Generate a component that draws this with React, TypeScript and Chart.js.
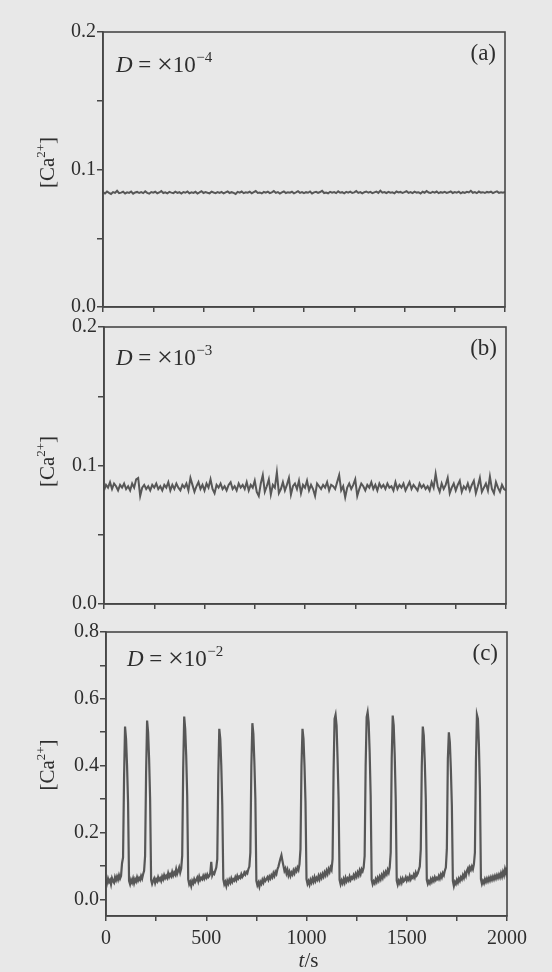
import React, { useEffect, useRef } from 'react';
import { Chart, registerables } from 'chart.js';

Chart.register(...registerables);

// ---------------- data ----------------
const T_MAX = 2000;
const STEP_A = 10; // s between samples, panel (a)
const STEP_B = 10; // panel (b)
const STEP_C = 5; // panel (c)

// (a) D = ×10^-4
const caA = [
  0.0835, 0.0825, 0.084, 0.083, 0.0822, 0.0836, 0.083, 0.0845, 0.0828, 0.0832, 0.0838, 0.0826, 0.0834, 0.083, 0.084, 0.0824, 0.0833, 0.0837, 0.0829, 0.0835,
  0.0828, 0.0841, 0.083, 0.0824, 0.0836, 0.0831, 0.0838, 0.0827, 0.0833, 0.0843, 0.0829, 0.0834, 0.0826, 0.0837, 0.0832, 0.0828, 0.0839, 0.083, 0.0835, 0.0825,
  0.0836, 0.0831, 0.084, 0.0827, 0.0834, 0.083, 0.0838, 0.0825, 0.0833, 0.0842, 0.0829, 0.0836, 0.0831, 0.0827, 0.0839, 0.0833, 0.0828, 0.0836, 0.083, 0.0837,
  0.0826, 0.0834, 0.0841, 0.0829, 0.0835, 0.083, 0.0822, 0.0837, 0.0832, 0.084, 0.0828, 0.0834, 0.0831, 0.0838, 0.0827, 0.0835, 0.0843, 0.083, 0.0833, 0.0826,
  0.0837, 0.0831, 0.0839, 0.0828, 0.0834, 0.0844, 0.083, 0.0836, 0.0825, 0.0833, 0.084, 0.0829, 0.0835, 0.0831, 0.0838, 0.0827, 0.0834, 0.0842, 0.083, 0.0836,
  0.0828, 0.0835, 0.0831, 0.084, 0.0826, 0.0834, 0.0838, 0.083, 0.0836, 0.0845, 0.0829, 0.0833, 0.0827, 0.0838, 0.0832, 0.0836, 0.0828, 0.0841, 0.0831, 0.0835,
  0.0827, 0.0837, 0.0832, 0.0839, 0.0829, 0.0834, 0.0843, 0.083, 0.0836, 0.0826, 0.0835, 0.084, 0.0831, 0.0837, 0.0828, 0.0834, 0.0839, 0.083, 0.0846, 0.0832,
  0.0836, 0.0829, 0.0838, 0.0831, 0.0834, 0.0827, 0.084, 0.0833, 0.0837, 0.0829, 0.0835, 0.0842, 0.083, 0.0836, 0.0828, 0.0839, 0.0832, 0.0835, 0.0826, 0.0838,
  0.0831, 0.0844, 0.0833, 0.0829, 0.0837, 0.0832, 0.084, 0.0828, 0.0835, 0.0831, 0.0838, 0.083, 0.0834, 0.0841, 0.0829, 0.0836, 0.0832, 0.0839, 0.0827, 0.0835,
  0.083, 0.0838, 0.0833, 0.0845, 0.0831, 0.0836, 0.0828, 0.084, 0.0832, 0.0835, 0.0829, 0.0837, 0.0833, 0.0839, 0.0828, 0.0836, 0.0841, 0.083, 0.0835, 0.0831,
  0.0836,
];

// (b) D = ×10^-3
const caB = [
  0.082, 0.086, 0.084, 0.088, 0.083, 0.087, 0.085, 0.082, 0.086, 0.084, 0.087, 0.083, 0.085, 0.082, 0.087, 0.084, 0.09, 0.091, 0.078, 0.084,
  0.086, 0.083, 0.085, 0.082, 0.086, 0.084, 0.087, 0.083, 0.085, 0.082, 0.086, 0.084, 0.088, 0.082, 0.086, 0.083, 0.087, 0.084, 0.082, 0.086,
  0.084, 0.087, 0.082, 0.091, 0.086, 0.081, 0.085, 0.088, 0.083, 0.086, 0.082, 0.087, 0.084, 0.09, 0.083, 0.08, 0.086, 0.084, 0.087, 0.083,
  0.085, 0.082, 0.086, 0.088, 0.083, 0.085, 0.082, 0.087, 0.084, 0.086, 0.083, 0.088, 0.082, 0.086, 0.084, 0.089, 0.081, 0.078, 0.087, 0.093,
  0.081, 0.085, 0.09, 0.079, 0.086, 0.084, 0.095, 0.08, 0.083, 0.088, 0.082, 0.086, 0.091, 0.079, 0.085, 0.087, 0.083, 0.089, 0.08, 0.086,
  0.084, 0.089, 0.082, 0.086, 0.083, 0.078, 0.087, 0.085, 0.083, 0.086, 0.084, 0.088, 0.082, 0.086, 0.085, 0.083, 0.088, 0.093, 0.082, 0.085,
  0.077, 0.084, 0.087, 0.083, 0.086, 0.09, 0.078, 0.083, 0.087, 0.085, 0.082, 0.086, 0.084, 0.088, 0.083, 0.086, 0.082, 0.087, 0.084, 0.086,
  0.083, 0.087, 0.084, 0.085, 0.082, 0.088, 0.083, 0.086, 0.084, 0.087, 0.082, 0.085, 0.088, 0.083, 0.086, 0.084, 0.082, 0.087, 0.084, 0.086,
  0.083, 0.085, 0.082, 0.088, 0.084, 0.094, 0.085, 0.081, 0.087, 0.083, 0.086, 0.091, 0.08, 0.084, 0.087, 0.082, 0.086, 0.089, 0.081, 0.085,
  0.083, 0.087, 0.082, 0.086, 0.089, 0.08, 0.085, 0.091, 0.081, 0.084, 0.087, 0.082, 0.092, 0.083, 0.08, 0.088, 0.084, 0.081, 0.086, 0.083,
  0.082,
];

// (c) D = ×10^-2
const caC = [
  0.06, 0.048, 0.062, 0.052, 0.058, 0.045, 0.063, 0.055, 0.05, 0.066, 0.057, 0.068, 0.059, 0.072, 0.062, 0.07, 0.108, 0.125, 0.36, 0.517,
  0.48, 0.4, 0.29, 0.055, 0.045, 0.058, 0.05, 0.062, 0.048, 0.06, 0.053, 0.066, 0.056, 0.064, 0.058, 0.07, 0.062, 0.075, 0.085, 0.13,
  0.38, 0.535, 0.5, 0.42, 0.3, 0.058, 0.046, 0.055, 0.062, 0.049, 0.06, 0.054, 0.066, 0.057, 0.063, 0.055, 0.068, 0.06, 0.072, 0.063,
  0.07, 0.064, 0.078, 0.067, 0.075, 0.069, 0.082, 0.071, 0.08, 0.074, 0.09, 0.076, 0.085, 0.095, 0.08, 0.092, 0.13, 0.39, 0.547, 0.51,
  0.43, 0.31, 0.06, 0.045, 0.052, 0.04, 0.055, 0.048, 0.06, 0.052, 0.058, 0.065, 0.054, 0.068, 0.058, 0.064, 0.06, 0.07, 0.062, 0.072,
  0.065, 0.074, 0.066, 0.07, 0.078, 0.112, 0.072, 0.08, 0.076, 0.086, 0.095, 0.12, 0.37, 0.51, 0.48, 0.4, 0.28, 0.06, 0.045, 0.052,
  0.04, 0.055, 0.047, 0.058, 0.05, 0.062, 0.052, 0.06, 0.056, 0.066, 0.058, 0.07, 0.062, 0.068, 0.064, 0.075, 0.067, 0.072, 0.08, 0.074,
  0.082, 0.078, 0.09, 0.098, 0.14, 0.4, 0.527, 0.495, 0.41, 0.3, 0.055, 0.042, 0.05, 0.038, 0.052, 0.046, 0.058, 0.05, 0.062, 0.055,
  0.06, 0.066, 0.058, 0.068, 0.062, 0.072, 0.066, 0.078, 0.07, 0.082, 0.076, 0.09, 0.098, 0.11, 0.122, 0.132, 0.115, 0.1, 0.085, 0.092,
  0.078, 0.088, 0.072, 0.082, 0.07, 0.08, 0.074, 0.086, 0.078, 0.09, 0.084, 0.095, 0.088, 0.105, 0.15, 0.4, 0.51, 0.48, 0.4, 0.29,
  0.06, 0.046, 0.054, 0.044, 0.058, 0.05, 0.062, 0.053, 0.066, 0.055, 0.064, 0.058, 0.07, 0.06, 0.072, 0.064, 0.076, 0.068, 0.08, 0.072,
  0.085, 0.076, 0.09, 0.082, 0.095, 0.088, 0.12, 0.38, 0.54, 0.552, 0.52, 0.42, 0.3, 0.058, 0.045, 0.056, 0.048, 0.06, 0.05, 0.064,
  0.054, 0.062, 0.056, 0.068, 0.058, 0.066, 0.062, 0.072, 0.064, 0.076, 0.068, 0.08, 0.072, 0.086, 0.076, 0.09, 0.084, 0.095, 0.13, 0.4,
  0.545, 0.56, 0.53, 0.44, 0.31, 0.058, 0.045, 0.054, 0.048, 0.06, 0.052, 0.064, 0.056, 0.068, 0.06, 0.072, 0.064, 0.078, 0.07, 0.082,
  0.075, 0.088, 0.08, 0.095, 0.14, 0.42, 0.55, 0.52, 0.43, 0.3, 0.056, 0.044, 0.055, 0.048, 0.06, 0.05, 0.062, 0.054, 0.058, 0.066,
  0.056, 0.064, 0.058, 0.07, 0.06, 0.068, 0.064, 0.074, 0.066, 0.08, 0.072, 0.078, 0.088, 0.098, 0.15, 0.4, 0.517, 0.49, 0.41, 0.3,
  0.058, 0.046, 0.054, 0.048, 0.06, 0.052, 0.062, 0.055, 0.066, 0.058, 0.064, 0.06, 0.07, 0.062, 0.074, 0.066, 0.078, 0.072, 0.086, 0.095,
  0.15, 0.42, 0.5, 0.47, 0.39, 0.28, 0.055, 0.04, 0.052, 0.046, 0.058, 0.05, 0.062, 0.055, 0.066, 0.06, 0.072, 0.064, 0.078, 0.07,
  0.085, 0.092, 0.08, 0.095, 0.088, 0.098, 0.09, 0.105, 0.14, 0.41, 0.552, 0.54, 0.46, 0.33, 0.06, 0.046, 0.055, 0.048, 0.06, 0.052,
  0.062, 0.054, 0.064, 0.056, 0.066, 0.058, 0.068, 0.06, 0.07, 0.062, 0.072, 0.064, 0.074, 0.066, 0.078, 0.068, 0.082, 0.072, 0.09, 0.078,
  0.095,
];

const panelLabels = ['(a)', '(b)', '(c)'];
const exponents = ['\u22124', '\u22123', '\u22122'];
const yAxisTitle = ['[Ca', '2+', ']'];
const xAxisTitle = ['t', '/s'];

// ---------------- styling ----------------
const BG = '#e8e8e8';
const AXIS = '#474747';
const LINE = '#575757';
const TEXT = '#2e2e2e';
const FONT = '"Liberation Serif", "Times New Roman", serif';
const FS = 20; // tick labels
const FA = 23; // annotations
const FT = 21; // axis titles

type PanelCfg = {
  values: number[];
  step: number;
  yMin: number;
  yMax: number;
  yStep: number;
  yMajor: number;
  includeBounds: boolean;
  top: number;
  h: number;
  padTop: number;
  padBottom: number;
  padRight: number;
  xH: number;
  yW: number;
  xLabels: boolean;
  lw: number;
  dX: number;
  dBase: number;
  titleShift: number;
  label: string;
  exp: string;
};

const PANELS: PanelCfg[] = [
  { values: caA, step: STEP_A, yMin: 0, yMax: 0.2, yStep: 0.05, yMajor: 0.1, includeBounds: true,
    top: 0, h: 330, padTop: 32, padBottom: 16, padRight: 47, xH: 7, yW: 103, xLabels: false, lw: 2,
    dX: 13, dBase: 40, titleShift: -7, label: panelLabels[0], exp: exponents[0] },
  { values: caB, step: STEP_B, yMin: 0, yMax: 0.2, yStep: 0.05, yMajor: 0.1, includeBounds: true,
    top: 300, h: 330, padTop: 27, padBottom: 18, padRight: 46, xH: 8, yW: 104, xLabels: false, lw: 2,
    dX: 12, dBase: 38, titleShift: -4, label: panelLabels[1], exp: exponents[1] },
  { values: caC, step: STEP_C, yMin: -0.05, yMax: 0.8, yStep: 0.1, yMajor: 0.2, includeBounds: false,
    top: 600, h: 372, padTop: 32, padBottom: 0, padRight: 45, xH: 56, yW: 106, xLabels: true, lw: 2.2,
    dX: 21, dBase: 34, titleShift: -9, label: panelLabels[2], exp: exponents[2] },
];

const isMultiple = (v: number, m: number) => Math.abs(v / m - Math.round(v / m)) < 1e-6;

function makeTextPlugin(cfg: PanelCfg) {
  return {
    id: 'panelText',
    afterDraw(chart: any) {
      const { ctx, chartArea } = chart;
      const { left, right, top, bottom } = chartArea;
      ctx.save();
      // frame
      ctx.strokeStyle = AXIS;
      ctx.lineWidth = 1.6;
      ctx.strokeRect(left, top, right - left, bottom - top);

      ctx.fillStyle = TEXT;
      ctx.textBaseline = 'alphabetic';
      ctx.textAlign = 'left';
      // D = ×10^n
      let x = left + cfg.dX;
      const y = top + cfg.dBase;
      ctx.font = `italic ${FA}px ${FONT}`;
      ctx.fillText('D', x, y);
      x += ctx.measureText('D').width;
      ctx.font = `${FA}px ${FONT}`;
      const eq = ' = ';
      ctx.fillText(eq, x, y);
      x += ctx.measureText(eq).width;
      ctx.font = `28px ${FONT}`;
      ctx.fillText('\u00d7', x, y + 1);
      x += ctx.measureText('\u00d7').width;
      ctx.font = `${FA}px ${FONT}`;
      ctx.fillText('10', x, y);
      x += ctx.measureText('10').width;
      ctx.font = `15px ${FONT}`;
      ctx.fillText(cfg.exp, x + 0.5, y - 10);

      // panel label
      ctx.font = `${FA}px ${FONT}`;
      ctx.textAlign = 'right';
      ctx.fillText(cfg.label, right - 9, top + 28);

      // y-axis title [Ca2+] rotated
      const cy = (top + bottom) / 2 + cfg.titleShift;
      ctx.save();
      ctx.translate(49, cy);
      ctx.rotate(-Math.PI / 2);
      ctx.textAlign = 'left';
      ctx.font = `${FT}px ${FONT}`;
      const w1 = ctx.measureText(yAxisTitle[0]).width;
      const w3 = ctx.measureText(yAxisTitle[2]).width;
      ctx.font = `13px ${FONT}`;
      const w2 = ctx.measureText(yAxisTitle[1]).width;
      const total = w1 + w2 + w3;
      let u = -total / 2;
      const base = 5;
      ctx.font = `${FT}px ${FONT}`;
      ctx.fillText(yAxisTitle[0], u, base);
      u += w1;
      ctx.font = `13px ${FONT}`;
      ctx.fillText(yAxisTitle[1], u, base - 9);
      u += w2;
      ctx.font = `${FT}px ${FONT}`;
      ctx.fillText(yAxisTitle[2], u, base);
      ctx.restore();

      // x-axis title t/s
      if (cfg.xLabels) {
        ctx.textAlign = 'left';
        ctx.font = `italic ${FT}px ${FONT}`;
        const wt = ctx.measureText(xAxisTitle[0]).width;
        ctx.font = `${FT}px ${FONT}`;
        const ws = ctx.measureText(xAxisTitle[1]).width;
        const sx = (left + right) / 2 + 2 - (wt + ws) / 2;
        const by = bottom + 51;
        ctx.font = `italic ${FT}px ${FONT}`;
        ctx.fillText(xAxisTitle[0], sx, by);
        ctx.font = `${FT}px ${FONT}`;
        ctx.fillText(xAxisTitle[1], sx + wt, by);
      }
      ctx.restore();
    },
  };
}

function Panel({ cfg }: { cfg: PanelCfg }) {
  const ref = useRef<HTMLCanvasElement | null>(null);
  useEffect(() => {
    const canvas = ref.current;
    if (!canvas) return;
    const points = cfg.values.map((v, i) => ({ x: i * cfg.step, y: v }));
    const chart = new Chart(canvas, {
      type: 'line',
      data: {
        datasets: [
          {
            data: points,
            borderColor: LINE,
            borderWidth: cfg.lw,
            pointRadius: 0,
            tension: 0,
            fill: false,
          },
        ],
      },
      options: {
        responsive: false,
        animation: false,
        events: [],
        layout: { padding: { left: 0, right: cfg.padRight, top: cfg.padTop, bottom: cfg.padBottom } },
        plugins: { legend: { display: false }, tooltip: { enabled: false }, title: { display: false } },
        scales: {
          x: {
            type: 'linear',
            min: 0,
            max: T_MAX,
            afterFit: (s: any) => { s.height = cfg.xH; },
            grid: { drawOnChartArea: false, drawTicks: true, tickLength: 5, color: AXIS, lineWidth: 1.5 },
            border: { display: true, color: AXIS, width: 1.6 },
            ticks: {
              stepSize: 250,
              autoSkip: false,
              maxRotation: 0,
              padding: 6,
              color: TEXT,
              font: { family: FONT, size: FS },
              callback: (v: any) => (cfg.xLabels && isMultiple(Number(v), 500) ? String(v) : ''),
            },
          },
          y: {
            type: 'linear',
            min: cfg.yMin,
            max: cfg.yMax,
            afterFit: (s: any) => { s.width = cfg.yW; },
            grid: { drawOnChartArea: false, drawTicks: true, tickLength: 6, color: AXIS, lineWidth: 1.5 },
            border: { display: true, color: AXIS, width: 1.6 },
            ticks: {
              stepSize: cfg.yStep,
              includeBounds: cfg.includeBounds,
              autoSkip: false,
              padding: 1,
              color: TEXT,
              font: { family: FONT, size: FS },
              callback: (v: any) => (isMultiple(Number(v), cfg.yMajor) ? Number(v).toFixed(1) : ''),
            },
          },
        },
      },
      plugins: [makeTextPlugin(cfg)],
    } as any);
    return () => chart.destroy();
  }, [cfg]);
  return (
    <canvas
      ref={ref}
      width={552}
      height={cfg.h}
      style={{ position: 'absolute', left: 0, top: cfg.top, width: 552, height: cfg.h }}
    />
  );
}

export default function App() {
  return (
    <div style={{ position: 'absolute', left: 0, top: 0, width: 552, height: 972, background: BG, overflow: 'hidden' }}>
      {PANELS.map((p, i) => (
        <Panel key={i} cfg={p} />
      ))}
    </div>
  );
}
